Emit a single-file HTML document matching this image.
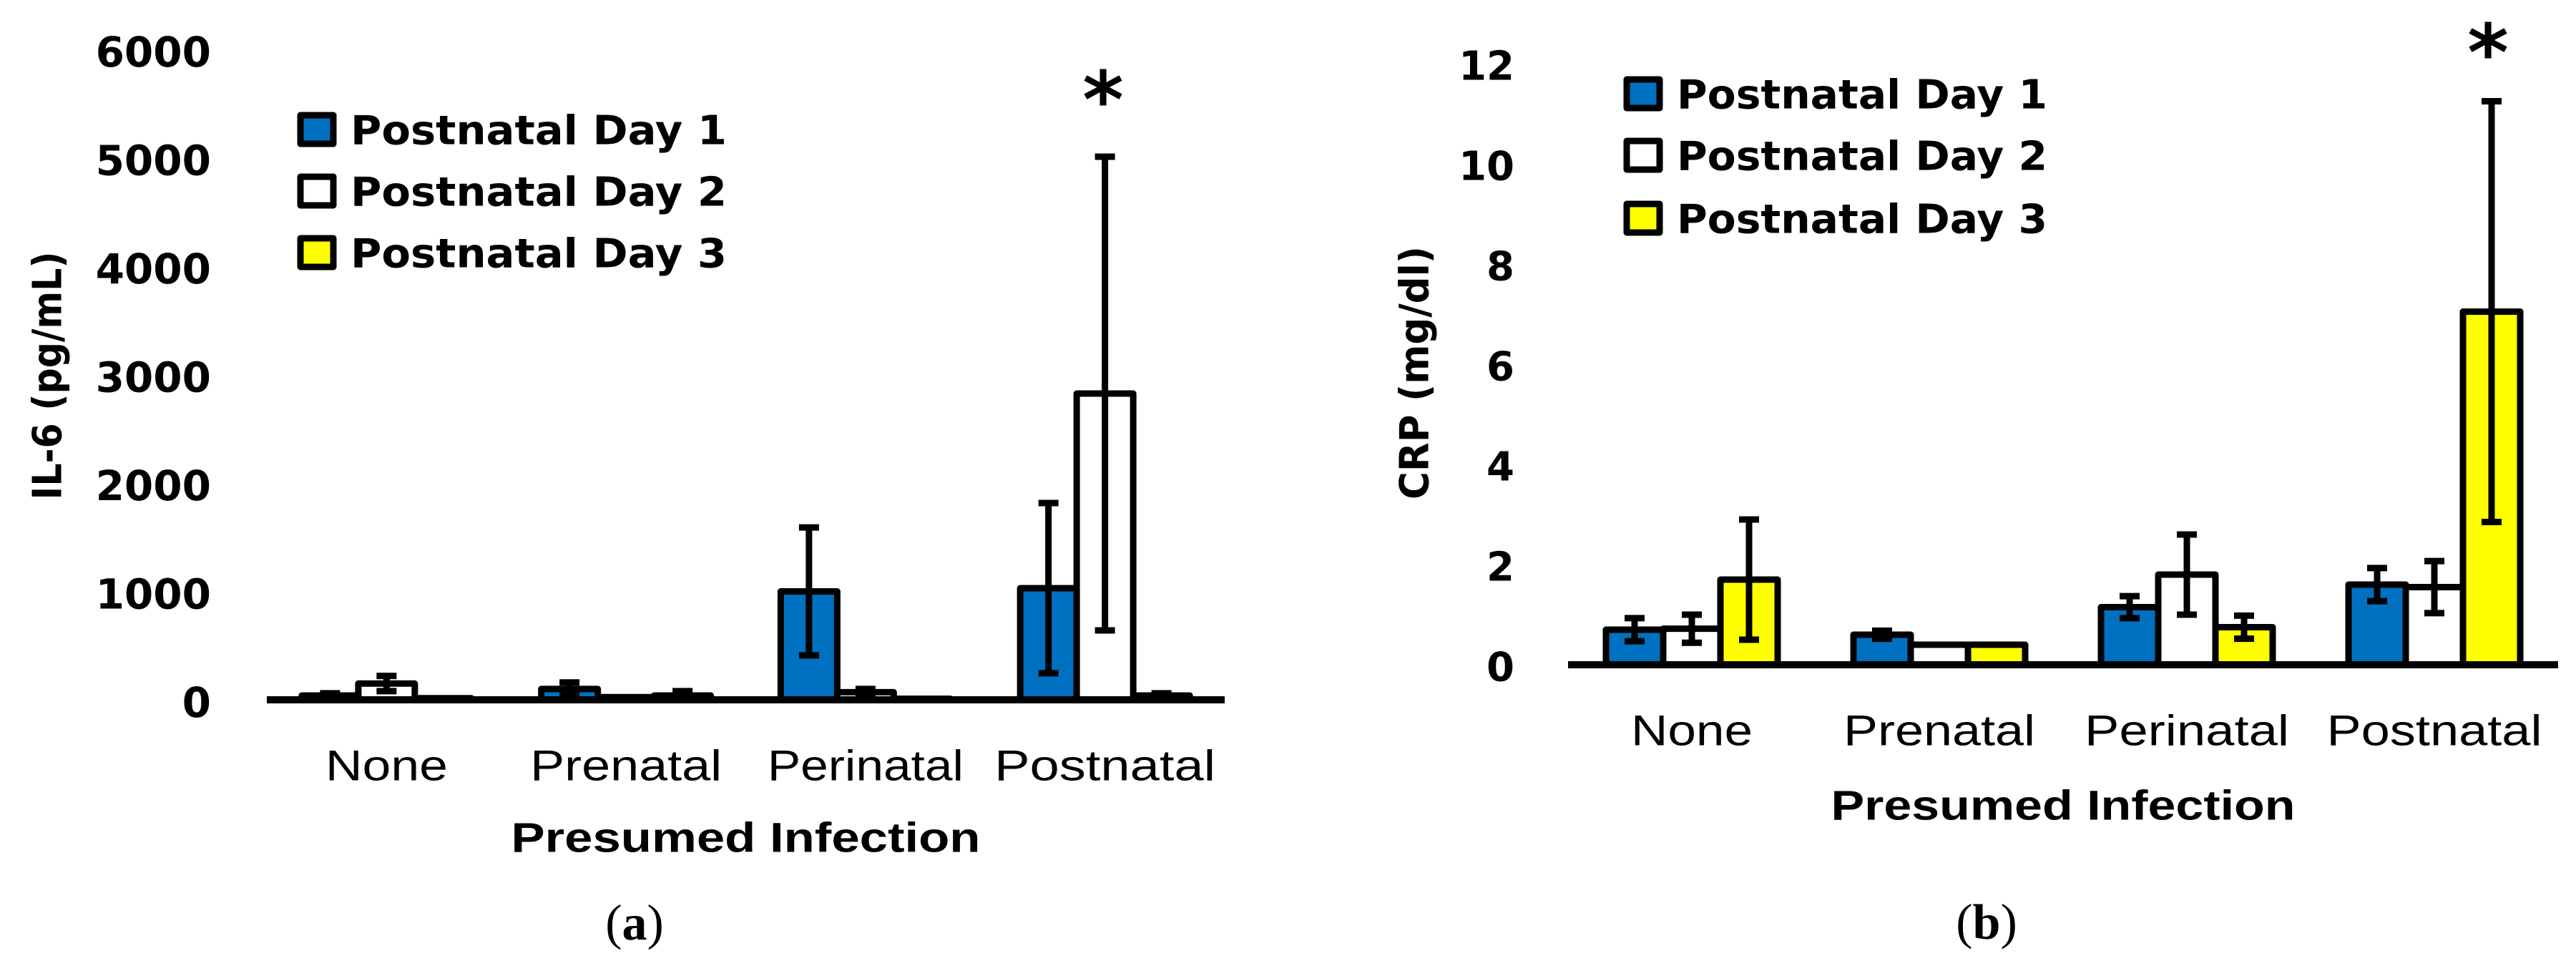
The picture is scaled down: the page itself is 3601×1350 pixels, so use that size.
<!DOCTYPE html>
<html>
<head>
<meta charset="utf-8">
<style>
  html, body { margin: 0; padding: 0; background: #ffffff; }
  svg { display: block; }
  .tick { font-family: "DejaVu Sans", "Liberation Sans", sans-serif; font-weight: bold; fill: #000; }
  .leg { font-family: "DejaVu Sans", "Liberation Sans", sans-serif; font-weight: bold; fill: #000; }
  .cat { font-family: "Liberation Sans", sans-serif; fill: #000; }
  .xt { font-family: "Liberation Sans", sans-serif; font-weight: bold; fill: #000; }
  .yt { font-family: "DejaVu Sans", "Liberation Sans", sans-serif; font-weight: bold; fill: #000; }
  .pl { font-family: "Liberation Serif", serif; fill: #000; }
</style>
</head>
<body>
<svg id="fig" width="3601" height="1350" viewBox="0 0 3601 1350" xmlns="http://www.w3.org/2000/svg"></svg>
<script>
// ---- shared data ----
const categories = ["None", "Prenatal", "Perinatal", "Postnatal"];
const seriesNames = ["Postnatal Day 1", "Postnatal Day 2", "Postnatal Day 3"];

// ---- chart (a): IL-6 ----
const il6Day1 = [40, 100, 1000, 1030];
const il6Day1Err = [20, 60, 590, 785];
const il6Day2 = [150, 25, 70, 2825];
const il6Day2Err = [70, 0, 30, 2185];
const il6Day3 = [15, 40, 10, 40];
const il6Day3Err = [0, 40, 0, 20];
const il6Ticks = [0, 1000, 2000, 3000, 4000, 5000, 6000];
const il6TickLabels = ["0", "1000", "2000", "3000", "4000", "5000", "6000"];

// ---- chart (b): CRP ----
const crpDay1 = [0.7, 0.6, 1.15, 1.6];
const crpDay1Err = [0.23, 0.08, 0.22, 0.33];
const crpDay2 = [0.72, 0.4, 1.8, 1.55];
const crpDay2Err = [0.28, 0, 0.8, 0.52];
const crpDay3 = [1.7, 0.4, 0.75, 7.05];
const crpDay3Err = [1.2, 0, 0.23, 4.2];
const crpTicks = [0, 2, 4, 6, 8, 10, 12];
const crpTickLabels = ["0", "2", "4", "6", "8", "10", "12"];

const NS = "http://www.w3.org/2000/svg";
const svg = document.getElementById("fig");
const fills = ["#0070C0", "#FFFFFF", "#FFFF00"];

function mk(tag, attrs, parent) {
  const e = document.createElementNS(NS, tag);
  for (const k in attrs) e.setAttribute(k, attrs[k]);
  (parent || svg).appendChild(e);
  return e;
}

function drawChart(cfg) {
  const g = mk("g", {});
  
  
  const yScale = v => cfg.y0 - (v - cfg.yMin) / (cfg.yMax - cfg.yMin) * (cfg.y0 - cfg.yTop);
  const band = (cfg.x1 - cfg.x0) / categories.length;
  const xCenter = i => cfg.x0 + band * (i + 0.5);

  // y tick labels
  cfg.ticks.forEach((t, i) => {
    const tx = mk("text", { x: cfg.tickRight, y: yScale(t) + 4, "text-anchor": "end", "dominant-baseline": "central", class: "tick", "font-size": cfg.tickFont }, g);
    tx.textContent = cfg.tickLabels[i];
    
    
  });

  // y axis title
  const yt = mk("text", { x: 0, y: 0, transform: `translate(${cfg.ytX},${cfg.ytY}) rotate(-90)`, "text-anchor": "middle", "dominant-baseline": "central", class: "yt", "font-size": 56, textLength: cfg.ytLen, lengthAdjust: "spacingAndGlyphs" }, g);
  yt.textContent = cfg.yTitle;
  
  

  // bars
  const series = [cfg.s1, cfg.s2, cfg.s3];
  const errs = [cfg.e1, cfg.e2, cfg.e3];
  const bw = cfg.barW;
  const errMarks = [];
  series.forEach((vals, si) => {
    vals.forEach((v, ci) => {
      const left = xCenter(ci) - 1.5 * bw + si * bw;
      const top = yScale(v);
      const r = mk("rect", { x: left, y: top, width: bw, height: Math.max(0, cfg.y0 - top), fill: fills[si], stroke: "#000", "stroke-width": 9, "stroke-linejoin": "round" }, g);
      
      
      errMarks.push({ cx: left + bw / 2, v: v, e: errs[si][ci], ci: ci, si: si });
    });
  });

  // error bars
  errMarks.forEach(m => {
    if (m.e <= 0) return;
    const yT = yScale(m.v + m.e), yB = yScale(Math.max(0, m.v - m.e));
    const eg = mk("g", { stroke: "#000", "stroke-width": 9 }, g);
    
    
    mk("line", { x1: m.cx, y1: yT, x2: m.cx, y2: yB }, eg);
    mk("line", { x1: m.cx - 14, y1: yT, x2: m.cx + 14, y2: yT }, eg);
    mk("line", { x1: m.cx - 14, y1: yB, x2: m.cx + 14, y2: yB }, eg);
  });

  // x axis line
  const ax = mk("line", { x1: cfg.x0, y1: cfg.y0, x2: cfg.x1, y2: cfg.y0, stroke: "#000", "stroke-width": 10 }, g);
  
  

  // category labels
  categories.forEach((c, i) => {
    const t = mk("text", { x: xCenter(i), y: cfg.catY, "text-anchor": "middle", "dominant-baseline": "central", class: "cat", "font-size": 60, textLength: cfg.catW[i], lengthAdjust: "spacingAndGlyphs" }, g);
    t.textContent = c;
    
    
  });

  // x axis title
  const xt = mk("text", { x: (cfg.x0 + cfg.x1) / 2, y: cfg.xtY, "text-anchor": "middle", "dominant-baseline": "central", class: "xt", "font-size": 58, textLength: cfg.xtLen, lengthAdjust: "spacingAndGlyphs" }, g);
  xt.textContent = "Presumed Infection";
  
  

  // legend
  seriesNames.forEach((n, i) => {
    const ly = cfg.legY[i];
    const lg = mk("g", {}, g);
    
    
    mk("rect", { x: cfg.legX + 4, y: ly - 20, width: 46, height: 40, fill: fills[i], stroke: "#000", "stroke-width": 9, "stroke-linejoin": "round" }, lg);
    const lt = mk("text", { x: cfg.legTextX, y: ly + 2, "dominant-baseline": "central", class: "leg", "font-size": 56, textLength: cfg.legLen, lengthAdjust: "spacingAndGlyphs" }, lg);
    lt.textContent = n;
  });

  // significance star
  const st = mk("text", { x: cfg.starX, y: cfg.starY + 38, "text-anchor": "middle", class: "leg", "font-size": 110 }, g);
  st.textContent = "*";
  
  

  // panel label
  const pl = mk("text", { x: cfg.plX, y: cfg.plY, "text-anchor": "middle", "dominant-baseline": "central", class: "pl", "font-size": 70 }, g);
  pl.innerHTML = '(<tspan font-weight="bold">' + cfg.panel + '</tspan>)';
  
  
}

drawChart({
  name: "chart-il6", panel: "a",
  s1: il6Day1, s2: il6Day2, s3: il6Day3, e1: il6Day1Err, e2: il6Day2Err, e3: il6Day3Err,
  ticks: il6Ticks, tickLabels: il6TickLabels, yMin: 0, yMax: 6000,
  y0: 978, yTop: 69, x0: 373, x1: 1712, barW: 79,
  tickRight: 295, tickFont: 58,
  yTitle: "IL-6 (pg/mL)", ytX: 67, ytY: 525, ytLen: 347,
  catY: 1070, catW: [171, 268, 274, 309], xtY: 1171, xtLen: 656,
  legX: 416, legTextX: 490, legY: [181, 267, 353], legLen: 526,
  starX: 1542, starY: 140, plX: 887, plY: 1290
});

drawChart({
  name: "chart-crp", panel: "b",
  s1: crpDay1, s2: crpDay2, s3: crpDay3, e1: crpDay1Err, e2: crpDay2Err, e3: crpDay3Err,
  ticks: crpTicks, tickLabels: crpTickLabels, yMin: 0, yMax: 12,
  y0: 929, yTop: 89, x0: 2192, x1: 3576, barW: 80,
  tickRight: 2117, tickFont: 56,
  yTitle: "CRP (mg/dl)", ytX: 1978, ytY: 521, ytLen: 354,
  catY: 1021, catW: [170, 268, 286, 301], xtY: 1126, xtLen: 649,
  legX: 2270, legTextX: 2344, legY: [131, 217, 305], legLen: 518,
  starX: 3478, starY: 74, plX: 2777, plY: 1289
});
</script>
</body>
</html>
